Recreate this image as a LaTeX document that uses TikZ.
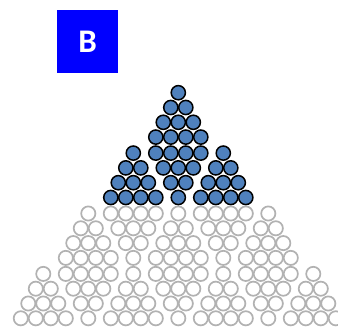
\documentclass[tikz,border=0pt]{standalone}
\usepackage{fontspec}
\usepackage{tikz}
\newfontfamily\tagfont{Carlito}
\definecolor{ballblue}{HTML}{4F81BD}
\definecolor{tagblue}{HTML}{0000FF}
% spacing of the balls (in px)
\newcommand{\bstep}{15}
\newcommand{\brow}{14.8}
\newcommand{\bgap}{16}
\newcommand{\brad}{7.1}
% triangle of 4 rows: apex x, apex y, direction (1 up, -1 down), style
\newcommand{\balltri}[4]{%
  \foreach \r in {0,...,3}{
    \foreach \k in {0,...,\r}{
      \draw[#4] ({(#1)+(\k-\r/2)*\bstep},{(#2)+(#3)*\r*\brow}) circle[radius=\brad];
    }
  }%
}
% four triangles, the middle one turned over
\newcommand{\ballpyr}[4]{%
  \balltri{#1}{#2}{#3}{#4}
  \balltri{#1}{(#2)+(#3)*(6*\brow+\bgap)}{-1*(#3)}{#4}
  \balltri{(#1)-3*\bstep}{(#2)+(#3)*(3*\brow+\bgap)}{#3}{#4}
  \balltri{(#1)+3*\bstep}{(#2)+(#3)*(3*\brow+\bgap)}{#3}{#4}%
}
\begin{document}
\begin{tikzpicture}[
  x=1pt, y=-1pt,
  whiteball/.style={draw=black!30, fill=white, line width=1.7pt},
  blueball/.style={draw=black, fill=ballblue, line width=1.5pt},
  tag/.style={fill=tagblue, text=white, minimum width=61pt, minimum height=63pt,
    inner sep=0pt, font=\tagfont\bfseries\fontsize{33}{33}\selectfont}
]
\useasboundingbox (0,0) rectangle (338,328);
\node[tag] (label) at (87.7,41.7) {B};
% white copies below
\ballpyr{178.3}{92.7+2*(6*\brow+\bgap)+\bgap}{-1}{whiteball}
\ballpyr{178.3-6*\bstep}{92.7+6*\brow+2*\bgap}{1}{whiteball}
\ballpyr{178.3+6*\bstep}{92.7+6*\brow+2*\bgap}{1}{whiteball}
% blue one on top
\ballpyr{178.3}{92.7}{1}{blueball}
\end{tikzpicture}
\end{document}
